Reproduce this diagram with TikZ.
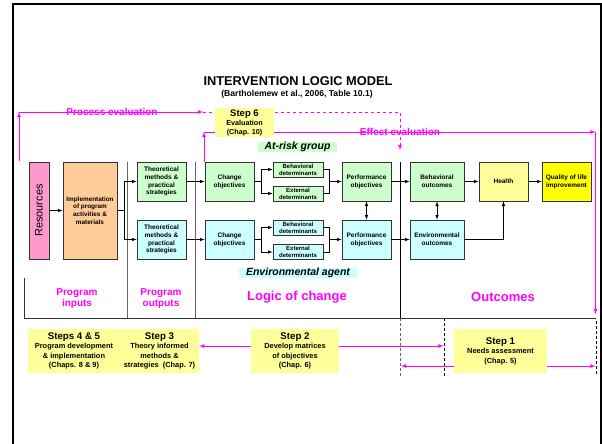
\documentclass[tikz,border=0pt]{standalone}
\usepackage{fontspec}
\setmainfont{Liberation Sans}
\usetikzlibrary{arrows,backgrounds}
\definecolor{lgreen}{HTML}{CCFFCC}
\definecolor{lcyan}{HTML}{CCFFFF}
\definecolor{lyel}{HTML}{FFFF99}
\definecolor{lorange}{HTML}{FFCC99}
\definecolor{lpink}{HTML}{FF99CC}
\definecolor{qyel}{HTML}{FFFF00}
\definecolor{evpink}{HTML}{FF00FF}

\tikzset{
  box/.style={draw=black!80, line width=0.8pt, align=center, inner sep=1pt,
    minimum width=49pt, minimum height=39pt, font=\fontsize{6.5}{7.8}\selectfont\bfseries},
  gbox/.style={box, fill=lgreen},
  cbox/.style={box, fill=lcyan},
  dbox/.style={box, minimum width=50pt, minimum height=15pt, font=\fontsize{6}{7}\selectfont\bfseries},
  stepbox/.style={fill=lyel, align=center, inner sep=0pt, minimum height=44pt,
    font=\fontsize{7.4}{9.5}\selectfont\bfseries},
  steptitle/.style={font=\fontsize{9.7}{11}\selectfont\bfseries},
  flow/.style={->, >=latex, line width=0.6pt},
  evline/.style={draw=evpink, line width=0.8pt, >=latex},
  plabel/.style={text=evpink, align=center, font=\fontsize{10}{11}\selectfont\bfseries},
  biglabel/.style={text=evpink, font=\fontsize{13}{14}\selectfont\bfseries},
  sep/.style={line width=0.8pt},
  tagbox/.style={inner sep=0pt, minimum height=10pt, font=\fontsize{10.5}{11}\selectfont\bfseries\itshape}
}

\begin{document}
\begin{tikzpicture}[x=1pt,y=-1pt]
\useasboundingbox (0,0) rectangle (602,444);
% frame
\draw[line width=2pt] (12.5,444) -- (12.5,4.5) -- (600.5,4.5) -- (600.5,444);

% title
\node[font=\fontsize{12.8}{14}\selectfont\bfseries] (title) at (298,81) {INTERVENTION LOGIC MODEL};
\node[font=\fontsize{8.6}{9}\selectfont\bfseries] (subtitle) at (297,94) {(Bartholemew et al., 2006, Table 10.1)};

% process evaluation
\coordinate (pe0) at (19,161);
\coordinate (pe1) at (19,112);
\coordinate (pe2) at (203,112);
\coordinate (pe3) at (400,112);
\coordinate (pe4) at (400,150);
\draw[evline,->] (pe0) -- (pe1);
\draw[evline,->] (pe1) -- (pe2);
\draw[evline,dashed,->] (pe2) -- (pe3) -- (pe4);
% effect evaluation
\coordinate (ee0) at (204,162);
\coordinate (ee1) at (204,132);
\coordinate (ee2) at (595.5,132);
\coordinate (ee3) at (595.5,314);
\draw[evline,->] (ee0) -- (ee1);
\draw[evline,->] (ee1) -- (ee2);
\draw[evline,->] (ee2) -- (ee3);
\node[plabel] (pevl) at (112,112) {Process evaluation};
\node[plabel] (eevl) at (400,132) {Effect evaluation};

\node[stepbox, minimum width=59pt, minimum height=29pt, font=\fontsize{7.2}{9}\selectfont\bfseries] (s6) at (244.5,122.5)
  {{\fontsize{9.5}{10}\selectfont Step 6}\\Evaluation\\(Chap. 10)};

% separators
\draw[sep, black!60] (127,162) -- (127,318);
\draw[sep, black!60] (195,162) -- (195,318);
\draw[sep] (400,162) -- (400,318);
\draw[sep, black!80] (24,278) -- (24,318) -- (596,318);
\draw[line width=1pt, black!60, dash pattern=on 3pt off 2pt] (400,318) -- (400,377);
\draw[line width=0.8pt, dash pattern=on 3pt off 2pt] (444,318) -- (444,377);
\draw[line width=0.8pt, dash pattern=on 3pt off 2pt] (596,321) -- (596,375);
\coordinate (dA) at (401,318);
\coordinate (dB) at (443.5,318);
\coordinate (dC) at (595.5,318);

% inputs
\node[box, fill=lpink, rotate=90, minimum width=97pt, minimum height=20pt,
  font=\fontsize{11}{12}\selectfont] (res) at (39,210.5) {Resources};
\node[box, fill=lorange, minimum width=54pt, minimum height=97pt,
  font=\fontsize{6.4}{7.6}\selectfont\bfseries] (impl) at (90,210.5)
  {Implementation\\of program\\activities \&\\materials};

% outputs
\node[gbox] (tg) at (161.5,181.5) {Theoretical\\methods \&\\practical\\strategies};
\node[cbox] (tc) at (161.5,239.5) {Theoretical\\methods \&\\practical\\strategies};

% logic of change
\node[gbox] (cg) at (229.5,181.5) {Change\\objectives};
\node[cbox] (cc) at (229.5,239.5) {Change\\objectives};
\node[dbox, fill=lgreen] (bdg) at (298,169.5) {Behavioral\\determinants};
\node[dbox, fill=lgreen] (edg) at (298,193.5) {External\\determinants};
\node[dbox, fill=lcyan] (bdc) at (298,227.5) {Behavioral\\determinants};
\node[dbox, fill=lcyan] (edc) at (298,252) {External\\determinants};
\node[gbox] (pg) at (366.5,181.5) {Performance\\objectives};
\node[cbox] (pc) at (366.5,239.5) {Performance\\objectives};
\node[tagbox, fill=lgreen, minimum width=79pt] (risk) at (297.5,147) {At-risk group};
\node[tagbox, fill=lcyan, minimum width=118pt] (agent) at (298,273) {Environmental agent};

% outcomes
\node[gbox, minimum width=54pt] (bo) at (437,181.5) {Behavioral\\outcomes};
\node[cbox, minimum width=54pt] (eo) at (437,239.5) {Environmental\\outcomes};
\node[box, fill=lyel] (hl) at (503.5,181.5) {Health};
\node[box, fill=qyel] (ql) at (566.5,181.5) {Quality of life\\improvement};

% arrows
\draw[flow] (res) -- (impl);
\draw[flow] (impl.east) -- ++(7,0) |- (tg.west);
\draw[flow] (impl.east) -- ++(7,0) |- (tc.west);
\draw[flow] (tg) -- (cg);
\draw[flow] (tc) -- (cc);
\draw[flow] (cg.east) -- ++(7,0) |- (bdg.west);
\draw[flow] (cg.east) -- ++(7,0) |- (edg.west);
\draw[flow] (cc.east) -- ++(7,0) |- (bdc.west);
\draw[flow] (cc.east) -- ++(7,0) |- (edc.west);
\coordinate (mg1) at (329,181.5);
\coordinate (mg2) at (329,239.5);
\draw[line width=0.6pt] (bdg.east) -| (mg1);
\draw[line width=0.6pt] (edg.east) -| (mg1);
\draw[flow] (mg1) -- (pg.west);
\draw[line width=0.6pt] (bdc.east) -| (mg2);
\draw[line width=0.6pt] (edc.east) -| (mg2);
\draw[flow] (mg2) -- (pc.west);
\draw[flow,<->] (pg) -- (pc);
\draw[flow] (pg) -- (bo);
\draw[flow] (pc) -- (eo);
\draw[flow,<->] (bo) -- (eo);
\draw[flow] (bo) -- (hl);
\draw[flow] (hl) -- (ql);
\draw[flow] (eo.east) -| (hl.south);

% column labels
\node[plabel] (pin) at (77,298.5) {Program\\inputs};
\node[plabel] (pout) at (161,298.5) {Program\\outputs};
\node[biglabel] (loc) at (297,297) {Logic of change};
\node[biglabel] (outc) at (503,297) {Outcomes};

% steps
\node[stepbox, minimum width=92pt] (s45) at (74,351)
  {{\fontsize{9.7}{11}\selectfont Steps 4 \& 5}\\Program development\\\& implementation\\(Chaps. 8 \& 9)};
\node[stepbox, minimum width=79pt] (s3) at (159.5,351)
  {{\fontsize{9.7}{11}\selectfont Step 3}\\Theory informed\\methods \&\\strategies~~(Chap. 7)};
\node[stepbox, minimum width=88pt] (s2) at (295,351)
  {{\fontsize{9.7}{11}\selectfont Step 2}\\Develop matrices\\of objectives\\(Chap. 6)};
\node[stepbox, minimum width=93pt] (s1) at (500.5,351)
  {{\fontsize{9.7}{11}\selectfont Step 1}\\Needs assessment\\(Chap. 5)};
\draw[evline,->] ([yshift=5pt]s2.west) -- ([yshift=5pt]s3.east);
\draw[evline,->] ([yshift=5pt]s2.east) -- ([yshift=5pt]s2.east -| dB);
\draw[evline,->] ([yshift=-15pt]s1.west) -- ([yshift=-15pt]s1.west -| dA);
\draw[evline,->] ([yshift=-15pt]s1.east) -- ([yshift=-15pt]s1.east -| dC);
\end{tikzpicture}
\end{document}
